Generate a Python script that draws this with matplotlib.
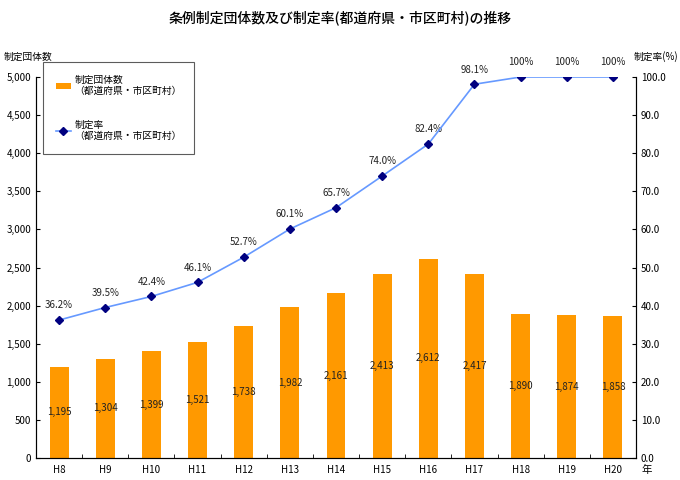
import matplotlib
matplotlib.use("Agg")
import matplotlib.pyplot as plt
from matplotlib.ticker import FuncFormatter
import numpy as np

plt.rcParams['font.family'] = ['Noto Sans CJK JP', 'DejaVu Sans']

years = ["H8", "H9", "H10", "H11", "H12", "H13", "H14", "H15", "H16", "H17", "H18", "H19", "H20"]
counts = [1195, 1304, 1399, 1521, 1738, 1982, 2161, 2413, 2612, 2417, 1890, 1874, 1858]
rates = [36.2, 39.5, 42.4, 46.1, 52.7, 60.1, 65.7, 74.0, 82.4, 98.1, 100, 100, 100]
rate_labels = ["36.2%", "39.5%", "42.4%", "46.1%", "52.7%", "60.1%", "65.7%", "74.0%", "82.4%", "98.1%", "100%", "100%", "100%"]

fig = plt.figure(figsize=(6.8, 4.8), dpi=100)
ax = fig.add_axes([36/680, 22/480, 600/680, 381/480])
x = np.arange(len(years))

bars = ax.bar(x, counts, width=0.41, color="#FF9900", zorder=2)
ax.set_ylim(0, 5000)
ax.set_xlim(-0.5, len(years) - 0.5)
ax.set_yticks(np.arange(0, 5001, 500))
ax.yaxis.set_major_formatter(FuncFormatter(lambda v, p: f"{int(v):,}"))
ax.set_xticks(x)
ax.set_xticklabels(years)
ax.set_xticks(np.arange(-0.5, len(years), 1), minor=True)
ax.tick_params(axis='x', which='major', length=0, pad=5, labelsize=7)
ax.tick_params(axis='x', which='minor', length=3, direction='in')
ax.tick_params(axis='y', labelsize=7, length=3, direction='in')
ax.spines['top'].set_visible(False)
for s in ['left', 'right', 'bottom']:
    ax.spines[s].set_color('#333333')

for xi, c in zip(x, counts):
    ax.text(xi, c / 2, f"{c:,}", ha='center', va='center', fontsize=7, color='#222222', zorder=3)

ax2 = ax.twinx()
ax2.set_ylim(0, 100)
ax2.set_yticks(np.arange(0, 101, 10))
ax2.yaxis.set_major_formatter(FuncFormatter(lambda v, p: f"{v:.1f}"))
ax2.tick_params(axis='y', labelsize=7, length=3, direction='in')
ax2.spines['top'].set_visible(False)
line, = ax2.plot(x, rates, color="#6699FF", lw=1.2, marker='D', markersize=4,
                 markerfacecolor="#000080", markeredgecolor="#000080", zorder=4)
for xi, r, lab in zip(x, rates, rate_labels):
    ax2.annotate(lab, (xi, r), xytext=(0, 7), textcoords='offset points',
                 ha='center', va='bottom', fontsize=7, color='#222222')

fig.text(0.5, 1 - 18/480, "条例制定団体数及び制定率(都道府県・市区町村)の推移", ha='center', va='center',
         fontsize=10, fontweight='medium')
fig.text(4/680, 1 - 57/480, "制定団体数", ha='left', va='center', fontsize=7)
fig.text(678/680, 1 - 57/480, "制定率(%)", ha='right', va='center', fontsize=7)
fig.text(641/680, 1 - 470/480, "年", ha='left', va='center', fontsize=7.5)

leg = fig.legend([bars, line], ["制定団体数\n（都道府県・市区町村）", "制定率\n（都道府県・市区町村）"],
                 loc='upper left', bbox_to_anchor=(43/680, 1 - 62/480), fontsize=7,
                 frameon=True, fancybox=False, edgecolor='#333333', handlelength=1.6,
                 handletextpad=0.3, labelspacing=2.4, borderpad=1.3, handleheight=0.6,
                 borderaxespad=0)
leg.get_frame().set_linewidth(0.8)

fig.savefig("out.png", dpi=100)
